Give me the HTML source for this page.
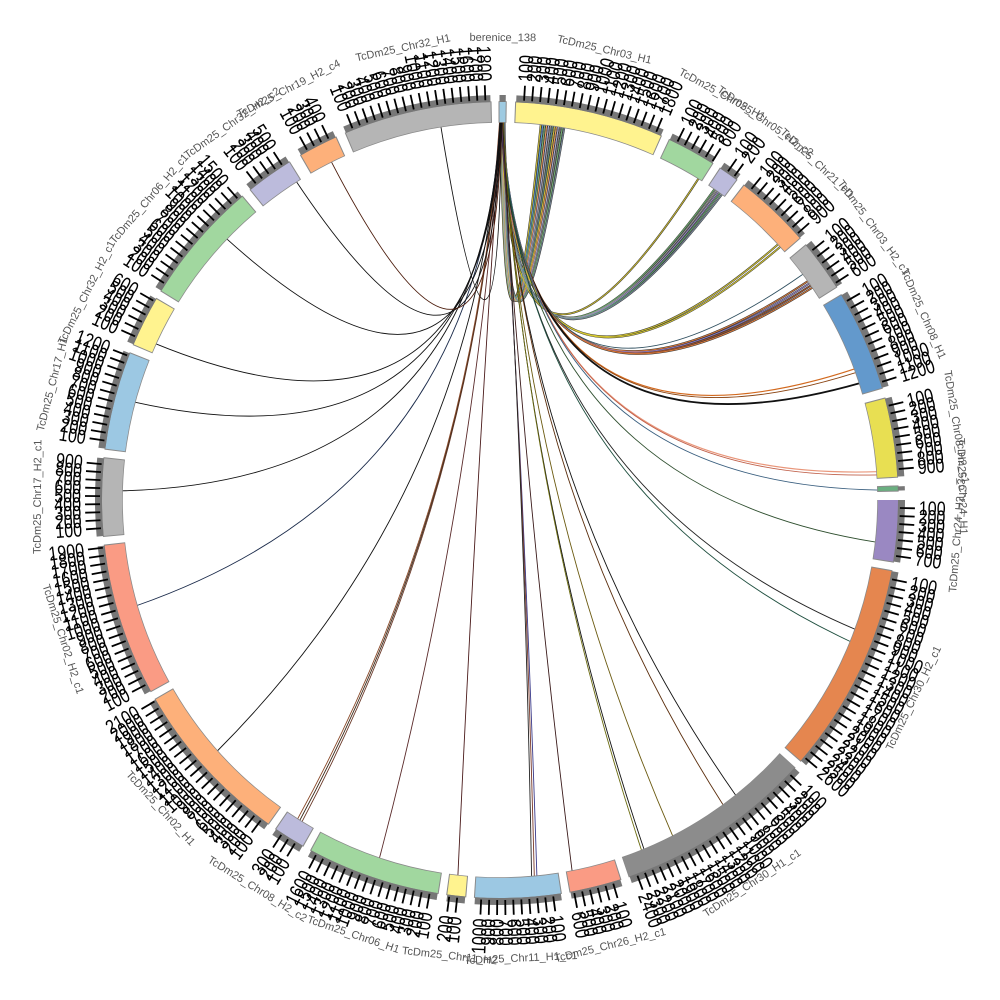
<!DOCTYPE html>
<html><head><meta charset="utf-8"><style>
html,body{margin:0;padding:0;width:1000px;height:1000px;overflow:hidden;background:#fff}
svg{display:block;overflow:hidden}
.ol{fill:none;stroke:#8a8a8a;stroke-width:21.5}
.sg{fill:none;stroke-width:20}
.gb{fill:none;stroke:#777;stroke-width:7}
.tk path{stroke:#000;stroke-width:1.8;fill:none}
.tk text{font-family:"Liberation Sans",sans-serif;font-size:20px;fill:#000;dominant-baseline:central}
.tk text.e{text-anchor:end}
.nm{font-family:"Liberation Sans",sans-serif;font-size:11px;fill:#555;text-anchor:middle}
.ch path{fill:none}
.ob path{stroke:#333;stroke-width:2;fill:none}
</style></head><body>
<svg width="1000" height="1000" viewBox="0 0 1000 1000" xmlns="http://www.w3.org/2000/svg">
<rect width="1000" height="1000" fill="#fff"/>
<!-- chords -->
<g class="ob">
<path d="M500.8 122Q505 478 540.8 124.2"/><path d="M501.1 122Q505 478 542.8 124.4"/><path d="M501.4 122Q505 478 544.8 124.6"/><path d="M501.7 122Q505 478 546.7 124.9"/><path d="M502 122Q505 478 548.7 125.1"/><path d="M502.3 122Q505 478 550.6 125.4"/><path d="M502.6 122Q505 478 552.6 125.7"/><path d="M502.9 122Q505 478 554.6 126"/><path d="M503.2 122Q505 478 556.5 126.2"/><path d="M503.5 122Q505 478 558.5 126.5"/><path d="M503.8 122Q505 478 560.4 126.9"/><path d="M504.1 122Q505 478 562.4 127.2"/><path d="M504.4 122Q505 478 564.3 127.5"/>
<path d="M502 122Q506.9 476 698.6 178.4"/><path d="M502.5 122Q507.6 476.2 714.6 188.9"/><path d="M503 122Q507.6 476.2 716.5 190.2"/><path d="M503.5 122Q507.6 476.2 718.4 191.5"/><path d="M504 122Q507.6 476.2 720.3 192.8"/><path d="M504.5 122Q507.6 476.2 722.2 194.2"/><path d="M503 122Q510.2 477.2 778.3 244.1"/><path d="M503.5 122Q510.2 477.2 780.5 246.6"/><path d="M502 122Q511.6 477.9 808.1 281"/><path d="M502.5 122Q511.6 477.9 809.7 283.2"/><path d="M503 122Q511.6 477.9 811.1 285.4"/><path d="M503.5 122Q511.6 477.9 812.6 287.5"/>
</g>
<g class="ch" stroke-width="1">
<path stroke="#d4c43a" d="M500.8 122Q505 478 540.8 124.2"/><path stroke="#5b9bd5" d="M501.1 122Q505 478 542.8 124.4"/><path stroke="#79b77a" d="M501.4 122Q505 478 544.8 124.6"/><path stroke="#f4a261" d="M501.7 122Q505 478 546.7 124.9"/><path stroke="#b0aed8" d="M502 122Q505 478 548.7 125.1"/><path stroke="#999" d="M502.3 122Q505 478 550.6 125.4"/><path stroke="#5f8f8f" d="M502.6 122Q505 478 552.6 125.7"/><path stroke="#d4c43a" d="M502.9 122Q505 478 554.6 126"/><path stroke="#f4a261" d="M503.2 122Q505 478 556.5 126.2"/><path stroke="#b0aed8" d="M503.5 122Q505 478 558.5 126.5"/><path stroke="#888" d="M503.8 122Q505 478 560.4 126.9"/><path stroke="#79b77a" d="M504.1 122Q505 478 562.4 127.2"/><path stroke="#778899" d="M504.4 122Q505 478 564.3 127.5"/>
<path stroke="#c8b830" d="M502 122Q506.9 476 698.6 178.4"/><path stroke="#6aa86a" d="M502.5 122Q507.6 476.2 714.6 188.9"/><path stroke="#9a9a9a" d="M503 122Q507.6 476.2 716.5 190.2"/><path stroke="#9b8fc9" d="M503.5 122Q507.6 476.2 718.4 191.5"/><path stroke="#5e9e6e" d="M504 122Q507.6 476.2 720.3 192.8"/><path stroke="#778899" d="M504.5 122Q507.6 476.2 722.2 194.2"/><path stroke="#d6c832" d="M503 122Q510.2 477.2 778.3 244.1"/><path stroke="#d6c832" d="M503.5 122Q510.2 477.2 780.5 246.6"/><path stroke="#e07b39" d="M502 122Q511.6 477.9 808.1 281"/><path stroke="#8e7cc3" d="M502.5 122Q511.6 477.9 809.7 283.2"/><path stroke="#a0522d" d="M503 122Q511.6 477.9 811.1 285.4"/><path stroke="#e07b39" d="M503.5 122Q511.6 477.9 812.6 287.5"/>
</g>
<g class="ch" stroke-width="0.9">
<path stroke="#2f4f5f" d="M504 122Q511.3 477.7 803.1 274.1"/>
<path stroke="#d2691e" stroke-width="1.2" d="M503 122Q515.7 480.6 854.5 368.9"/>
<path stroke="#8b4513" d="M503.5 122Q515.7 480.6 855.9 372.6"/>
<path stroke="#111" stroke-width="1.8" d="M502 122Q516.1 480.8 859.5 383.2"/>
<path stroke="#e9967a" stroke-width="1.2" d="M502.5 122Q518.3 483 877 471.7"/>
<path stroke="#c0604a" d="M503 122Q518.3 483 877.2 474.9"/>
<path stroke="#3a5f7f" d="M503 122Q518.6 483.3 877.9 490.1"/>
<path stroke="#2f4f2f" d="M502 122Q519.8 484.7 875.7 542.1"/>
<path stroke="#222" d="M501.5 122Q521.4 487.1 855.2 629.3"/>
<path stroke="#1f4f3f" d="M502 122Q521.7 487.5 850.5 641.6"/>
<path stroke="#111" d="M501 122Q523.6 491.8 735.8 795.4"/>
<path stroke="#5a2d0c" d="M501.5 122Q523.8 492.3 723.2 805"/>
<path stroke="#6b5a10" d="M502 122Q524.3 494.2 672.8 836.2"/>
<path stroke="#111" d="M502.5 122Q524.5 495.2 644.1 849.5"/>
<path stroke="#6b6b10" d="M503 122Q524.5 495.2 641.6 850.5"/>
<path stroke="#3a1a1a" d="M501 122Q524.9 497.6 572.1 871"/>
<path stroke="#3a3a8a" d="M501.5 122Q525 498.9 536.9 876.2"/>
<path stroke="#7a3a2a" d="M502 122Q525 498.9 534.3 876.4"/>
<path stroke="#222" d="M502.5 122Q525 498.9 531.6 876.7"/>
<path stroke="#4a1a1a" d="M501 122Q475 498.5 457.9 875.7"/>
<path stroke="#5a2a2a" d="M500.5 122Q475.3 495.9 379.4 858.3"/>
<path stroke="#6b3a2a" d="M500.5 122Q476 493 301.9 821.9"/>
<path stroke="#3a2a1a" d="M500 122Q476 493 299.7 820.5"/>
<path stroke="#8a4a2a" d="M499.5 122Q476 493 297.5 819.1"/>
<path stroke="#111" d="M500 122Q477.2 489.7 217.3 751"/>
<path stroke="#1a2a4a" d="M500 122Q480 485 137 605.5"/>
<path stroke="#111" d="M500 122Q482.6 482 122.1 490.8"/>
<path stroke="#111" d="M500.5 122Q484.9 480.1 134.9 402.2"/>
<path stroke="#111" d="M500.5 122Q486.5 478.9 155.8 343.8"/>
<path stroke="#111" d="M501 122Q490.2 477 226.7 238.8"/>
<path stroke="#111" d="M501 122Q493.1 476 296.3 181.5"/>
<path stroke="#4a1a0a" d="M501.5 122Q494.3 475.7 331.3 161.7"/>
<path stroke="#111" d="M501.5 122Q498.1 475.1 440.9 126.6"/>
</g>
<!-- outlines -->
<g>
<circle class="ol" cx="500" cy="500" r="388" stroke-dashoffset="-1826.72" stroke-dasharray="8.13 3000"/>
<circle class="ol" cx="500" cy="500" r="388" stroke-dashoffset="-1842.97" stroke-dasharray="147.63 3000"/>
<circle class="ol" cx="500" cy="500" r="388" stroke-dashoffset="-1998.05" stroke-dasharray="49.43 3000"/>
<circle class="ol" cx="500" cy="500" r="388" stroke-dashoffset="-2054.93" stroke-dasharray="20.99 3000"/>
<circle class="ol" cx="500" cy="500" r="388" stroke-dashoffset="-2083.37" stroke-dasharray="76.52 3000"/>
<circle class="ol" cx="500" cy="500" r="388" stroke-dashoffset="-2167.34" stroke-dasharray="52.14 3000"/>
<circle class="ol" cx="500" cy="500" r="388" stroke-dashoffset="-2226.94" stroke-dasharray="100.9 3000"/>
<circle class="ol" cx="500" cy="500" r="388" stroke-dashoffset="-2336.64" stroke-dasharray="79.23 3000"/>
<circle class="ol" cx="500" cy="500" r="388" stroke-dashoffset="-2423.32" stroke-dasharray="6.1 3000"/>
<circle class="ol" cx="500" cy="500" r="388" stroke-dashoffset="1.016" stroke-dasharray="62.3 3000"/>
<circle class="ol" cx="500" cy="500" r="388" stroke-dashoffset="-68.73" stroke-dasharray="209.25 3000"/>
<circle class="ol" cx="500" cy="500" r="388" stroke-dashoffset="-285.44" stroke-dasharray="196.39 3000"/>
<circle class="ol" cx="500" cy="500" r="388" stroke-dashoffset="-489.27" stroke-dasharray="52.14 3000"/>
<circle class="ol" cx="500" cy="500" r="388" stroke-dashoffset="-548.86" stroke-dasharray="86 3000"/>
<circle class="ol" cx="500" cy="500" r="388" stroke-dashoffset="-642.31" stroke-dasharray="19.64 3000"/>
<circle class="ol" cx="500" cy="500" r="388" stroke-dashoffset="-669.41" stroke-dasharray="132.73 3000"/>
<circle class="ol" cx="500" cy="500" r="388" stroke-dashoffset="-809.58" stroke-dasharray="32.51 3000"/>
<circle class="ol" cx="500" cy="500" r="388" stroke-dashoffset="-849.53" stroke-dasharray="166.59 3000"/>
<circle class="ol" cx="500" cy="500" r="388" stroke-dashoffset="-1023.57" stroke-dasharray="151.69 3000"/>
<circle class="ol" cx="500" cy="500" r="388" stroke-dashoffset="-1182.71" stroke-dasharray="77.88 3000"/>
<circle class="ol" cx="500" cy="500" r="388" stroke-dashoffset="-1268.04" stroke-dasharray="98.19 3000"/>
<circle class="ol" cx="500" cy="500" r="388" stroke-dashoffset="-1373.68" stroke-dasharray="51.47 3000"/>
<circle class="ol" cx="500" cy="500" r="388" stroke-dashoffset="-1432.6" stroke-dasharray="123.25 3000"/>
<circle class="ol" cx="500" cy="500" r="388" stroke-dashoffset="-1564.65" stroke-dasharray="48.08 3000"/>
<circle class="ol" cx="500" cy="500" r="388" stroke-dashoffset="-1624.24" stroke-dasharray="39.95 3000"/>
<circle class="ol" cx="500" cy="500" r="388" stroke-dashoffset="-1673" stroke-dasharray="146.95 3000"/>
</g>
<!-- colored segments -->
<g>
<circle class="sg" stroke="#9ecae1" cx="500" cy="500" r="388" stroke-dashoffset="-1827.74" stroke-dasharray="6.1 3000"/>
<circle class="sg" stroke="#fff38f" cx="500" cy="500" r="388" stroke-dashoffset="-1843.99" stroke-dasharray="145.6 3000"/>
<circle class="sg" stroke="#a1d79f" cx="500" cy="500" r="388" stroke-dashoffset="-1999.07" stroke-dasharray="47.4 3000"/>
<circle class="sg" stroke="#bcbbdc" cx="500" cy="500" r="388" stroke-dashoffset="-2055.95" stroke-dasharray="18.96 3000"/>
<circle class="sg" stroke="#fdb07a" cx="500" cy="500" r="388" stroke-dashoffset="-2084.39" stroke-dasharray="74.49 3000"/>
<circle class="sg" stroke="#b5b5b5" cx="500" cy="500" r="388" stroke-dashoffset="-2168.36" stroke-dasharray="50.11 3000"/>
<circle class="sg" stroke="#6399cc" cx="500" cy="500" r="388" stroke-dashoffset="-2227.96" stroke-dasharray="98.87 3000"/>
<circle class="sg" stroke="#e8df52" cx="500" cy="500" r="388" stroke-dashoffset="-2337.66" stroke-dasharray="77.2 3000"/>
<circle class="sg" stroke="#6aaf80" cx="500" cy="500" r="388" stroke-dashoffset="-2424.34" stroke-dasharray="4.06 3000"/>
<circle class="sg" stroke="#9a88c2" cx="500" cy="500" r="388" stroke-dashoffset="0" stroke-dasharray="60.27 3000"/>
<circle class="sg" stroke="#e5864f" cx="500" cy="500" r="388" stroke-dashoffset="-69.75" stroke-dasharray="207.22 3000"/>
<circle class="sg" stroke="#8c8c8c" cx="500" cy="500" r="388" stroke-dashoffset="-286.45" stroke-dasharray="194.35 3000"/>
<circle class="sg" stroke="#fa9b84" cx="500" cy="500" r="388" stroke-dashoffset="-490.29" stroke-dasharray="50.11 3000"/>
<circle class="sg" stroke="#9cc8e3" cx="500" cy="500" r="388" stroke-dashoffset="-549.88" stroke-dasharray="83.97 3000"/>
<circle class="sg" stroke="#fff38f" cx="500" cy="500" r="388" stroke-dashoffset="-643.33" stroke-dasharray="17.61 3000"/>
<circle class="sg" stroke="#a1d79f" cx="500" cy="500" r="388" stroke-dashoffset="-670.42" stroke-dasharray="130.7 3000"/>
<circle class="sg" stroke="#bcbbdc" cx="500" cy="500" r="388" stroke-dashoffset="-810.6" stroke-dasharray="30.47 3000"/>
<circle class="sg" stroke="#fdb07a" cx="500" cy="500" r="388" stroke-dashoffset="-850.55" stroke-dasharray="164.56 3000"/>
<circle class="sg" stroke="#fa9b84" cx="500" cy="500" r="388" stroke-dashoffset="-1024.59" stroke-dasharray="149.66 3000"/>
<circle class="sg" stroke="#b5b5b5" cx="500" cy="500" r="388" stroke-dashoffset="-1183.73" stroke-dasharray="75.85 3000"/>
<circle class="sg" stroke="#9cc8e3" cx="500" cy="500" r="388" stroke-dashoffset="-1269.05" stroke-dasharray="96.16 3000"/>
<circle class="sg" stroke="#fff38f" cx="500" cy="500" r="388" stroke-dashoffset="-1374.7" stroke-dasharray="49.43 3000"/>
<circle class="sg" stroke="#a1d79f" cx="500" cy="500" r="388" stroke-dashoffset="-1433.61" stroke-dasharray="121.22 3000"/>
<circle class="sg" stroke="#bcbbdc" cx="500" cy="500" r="388" stroke-dashoffset="-1565.66" stroke-dasharray="46.05 3000"/>
<circle class="sg" stroke="#fdb07a" cx="500" cy="500" r="388" stroke-dashoffset="-1625.26" stroke-dasharray="37.92 3000"/>
<circle class="sg" stroke="#b5b5b5" cx="500" cy="500" r="388" stroke-dashoffset="-1674.01" stroke-dasharray="144.92 3000"/>
</g>
<!-- grey tick band -->
<g>
<circle class="gb" cx="500" cy="500" r="401.5" stroke-dashoffset="-1891.32" stroke-dasharray="6.31 3000"/>
<circle class="gb" cx="500" cy="500" r="401.5" stroke-dashoffset="-1908.14" stroke-dasharray="150.66 3000"/>
<circle class="gb" cx="500" cy="500" r="401.5" stroke-dashoffset="-2068.61" stroke-dasharray="49.05 3000"/>
<circle class="gb" cx="500" cy="500" r="401.5" stroke-dashoffset="-2127.48" stroke-dasharray="19.62 3000"/>
<circle class="gb" cx="500" cy="500" r="401.5" stroke-dashoffset="-2156.91" stroke-dasharray="77.08 3000"/>
<circle class="gb" cx="500" cy="500" r="401.5" stroke-dashoffset="-2243.8" stroke-dasharray="51.86 3000"/>
<circle class="gb" cx="500" cy="500" r="401.5" stroke-dashoffset="-2305.47" stroke-dasharray="102.31 3000"/>
<circle class="gb" cx="500" cy="500" r="401.5" stroke-dashoffset="-2418.99" stroke-dasharray="79.89 3000"/>
<circle class="gb" cx="500" cy="500" r="401.5" stroke-dashoffset="-2508.69" stroke-dasharray="4.2 3000"/>
<circle class="gb" cx="500" cy="500" r="401.5" stroke-dashoffset="0" stroke-dasharray="62.37 3000"/>
<circle class="gb" cx="500" cy="500" r="401.5" stroke-dashoffset="-72.18" stroke-dasharray="214.43 3000"/>
<circle class="gb" cx="500" cy="500" r="401.5" stroke-dashoffset="-296.42" stroke-dasharray="201.12 3000"/>
<circle class="gb" cx="500" cy="500" r="401.5" stroke-dashoffset="-507.34" stroke-dasharray="51.86 3000"/>
<circle class="gb" cx="500" cy="500" r="401.5" stroke-dashoffset="-569.01" stroke-dasharray="86.89 3000"/>
<circle class="gb" cx="500" cy="500" r="401.5" stroke-dashoffset="-665.71" stroke-dasharray="18.22 3000"/>
<circle class="gb" cx="500" cy="500" r="401.5" stroke-dashoffset="-693.74" stroke-dasharray="135.24 3000"/>
<circle class="gb" cx="500" cy="500" r="401.5" stroke-dashoffset="-838.8" stroke-dasharray="31.53 3000"/>
<circle class="gb" cx="500" cy="500" r="401.5" stroke-dashoffset="-880.14" stroke-dasharray="170.28 3000"/>
<circle class="gb" cx="500" cy="500" r="401.5" stroke-dashoffset="-1060.23" stroke-dasharray="154.87 3000"/>
<circle class="gb" cx="500" cy="500" r="401.5" stroke-dashoffset="-1224.91" stroke-dasharray="78.48 3000"/>
<circle class="gb" cx="500" cy="500" r="401.5" stroke-dashoffset="-1313.21" stroke-dasharray="99.51 3000"/>
<circle class="gb" cx="500" cy="500" r="401.5" stroke-dashoffset="-1422.52" stroke-dasharray="51.15 3000"/>
<circle class="gb" cx="500" cy="500" r="401.5" stroke-dashoffset="-1483.49" stroke-dasharray="125.43 3000"/>
<circle class="gb" cx="500" cy="500" r="401.5" stroke-dashoffset="-1620.13" stroke-dasharray="47.65 3000"/>
<circle class="gb" cx="500" cy="500" r="401.5" stroke-dashoffset="-1681.8" stroke-dasharray="39.24 3000"/>
<circle class="gb" cx="500" cy="500" r="401.5" stroke-dashoffset="-1732.25" stroke-dasharray="149.96 3000"/>
</g>
<!-- ticks -->
<g class="tk" transform="rotate(2.3 500 500)">
<g transform="rotate(1.15 500 500)"><path d="M500 100V85"/><text transform="translate(500 81) rotate(-90) scale(.8 1)">100</text></g>
<g transform="rotate(2.3 500 500)"><path d="M500 100V85"/><text transform="translate(500 81) rotate(-90) scale(.8 1)">200</text></g>
<g transform="rotate(3.45 500 500)"><path d="M500 100V85"/><text transform="translate(500 81) rotate(-90) scale(.8 1)">300</text></g>
<g transform="rotate(4.6 500 500)"><path d="M500 100V85"/><text transform="translate(500 81) rotate(-90) scale(.8 1)">400</text></g>
<g transform="rotate(5.75 500 500)"><path d="M500 100V85"/><text transform="translate(500 81) rotate(-90) scale(.8 1)">500</text></g>
<g transform="rotate(6.9 500 500)"><path d="M500 100V85"/><text transform="translate(500 81) rotate(-90) scale(.8 1)">600</text></g>
<g transform="rotate(8.05 500 500)"><path d="M500 100V85"/><text transform="translate(500 81) rotate(-90) scale(.8 1)">700</text></g>
<g transform="rotate(9.2 500 500)"><path d="M500 100V85"/><text transform="translate(500 81) rotate(-90) scale(.8 1)">800</text></g>
<g transform="rotate(10.35 500 500)"><path d="M500 100V85"/><text transform="translate(500 81) rotate(-90) scale(.8 1)">900</text></g>
<g transform="rotate(11.5 500 500)"><path d="M500 100V85"/><text transform="translate(500 81) rotate(-90) scale(.8 1)">1000</text></g>
<g transform="rotate(12.65 500 500)"><path d="M500 100V85"/><text transform="translate(500 81) rotate(-90) scale(.8 1)">1100</text></g>
<g transform="rotate(13.8 500 500)"><path d="M500 100V85"/><text transform="translate(500 81) rotate(-90) scale(.8 1)">1200</text></g>
<g transform="rotate(14.95 500 500)"><path d="M500 100V85"/><text transform="translate(500 81) rotate(-90) scale(.8 1)">1300</text></g>
<g transform="rotate(16.1 500 500)"><path d="M500 100V85"/><text transform="translate(500 81) rotate(-90) scale(.8 1)">1400</text></g>
<g transform="rotate(17.25 500 500)"><path d="M500 100V85"/><text transform="translate(500 81) rotate(-90) scale(.8 1)">1500</text></g>
<g transform="rotate(18.4 500 500)"><path d="M500 100V85"/><text transform="translate(500 81) rotate(-90) scale(.8 1)">1600</text></g>
<g transform="rotate(19.55 500 500)"><path d="M500 100V85"/><text transform="translate(500 81) rotate(-90) scale(.8 1)">1700</text></g>
<g transform="rotate(20.7 500 500)"><path d="M500 100V85"/><text transform="translate(500 81) rotate(-90) scale(.8 1)">1800</text></g>
</g>
<g class="tk" transform="rotate(25.2 500 500)">
<g transform="rotate(1.15 500 500)"><path d="M500 100V85"/><text transform="translate(500 81) rotate(-90) scale(.8 1)">100</text></g>
<g transform="rotate(2.3 500 500)"><path d="M500 100V85"/><text transform="translate(500 81) rotate(-90) scale(.8 1)">200</text></g>
<g transform="rotate(3.45 500 500)"><path d="M500 100V85"/><text transform="translate(500 81) rotate(-90) scale(.8 1)">300</text></g>
<g transform="rotate(4.6 500 500)"><path d="M500 100V85"/><text transform="translate(500 81) rotate(-90) scale(.8 1)">400</text></g>
<g transform="rotate(5.75 500 500)"><path d="M500 100V85"/><text transform="translate(500 81) rotate(-90) scale(.8 1)">500</text></g>
<g transform="rotate(6.9 500 500)"><path d="M500 100V85"/><text transform="translate(500 81) rotate(-90) scale(.8 1)">600</text></g>
</g>
<g class="tk" transform="rotate(33.6 500 500)">
<g transform="rotate(1.15 500 500)"><path d="M500 100V85"/><text transform="translate(500 81) rotate(-90) scale(.8 1)">100</text></g>
<g transform="rotate(2.3 500 500)"><path d="M500 100V85"/><text transform="translate(500 81) rotate(-90) scale(.8 1)">200</text></g>
</g>
<g class="tk" transform="rotate(37.8 500 500)">
<g transform="rotate(1.15 500 500)"><path d="M500 100V85"/><text transform="translate(500 81) rotate(-90) scale(.8 1)">100</text></g>
<g transform="rotate(2.3 500 500)"><path d="M500 100V85"/><text transform="translate(500 81) rotate(-90) scale(.8 1)">200</text></g>
<g transform="rotate(3.45 500 500)"><path d="M500 100V85"/><text transform="translate(500 81) rotate(-90) scale(.8 1)">300</text></g>
<g transform="rotate(4.6 500 500)"><path d="M500 100V85"/><text transform="translate(500 81) rotate(-90) scale(.8 1)">400</text></g>
<g transform="rotate(5.75 500 500)"><path d="M500 100V85"/><text transform="translate(500 81) rotate(-90) scale(.8 1)">500</text></g>
<g transform="rotate(6.9 500 500)"><path d="M500 100V85"/><text transform="translate(500 81) rotate(-90) scale(.8 1)">600</text></g>
<g transform="rotate(8.05 500 500)"><path d="M500 100V85"/><text transform="translate(500 81) rotate(-90) scale(.8 1)">700</text></g>
<g transform="rotate(9.2 500 500)"><path d="M500 100V85"/><text transform="translate(500 81) rotate(-90) scale(.8 1)">800</text></g>
<g transform="rotate(10.35 500 500)"><path d="M500 100V85"/><text transform="translate(500 81) rotate(-90) scale(.8 1)">900</text></g>
</g>
<g class="tk" transform="rotate(50.2 500 500)">
<g transform="rotate(1.15 500 500)"><path d="M500 100V85"/><text transform="translate(500 81) rotate(-90) scale(.8 1)">100</text></g>
<g transform="rotate(2.3 500 500)"><path d="M500 100V85"/><text transform="translate(500 81) rotate(-90) scale(.8 1)">200</text></g>
<g transform="rotate(3.45 500 500)"><path d="M500 100V85"/><text transform="translate(500 81) rotate(-90) scale(.8 1)">300</text></g>
<g transform="rotate(4.6 500 500)"><path d="M500 100V85"/><text transform="translate(500 81) rotate(-90) scale(.8 1)">400</text></g>
<g transform="rotate(5.75 500 500)"><path d="M500 100V85"/><text transform="translate(500 81) rotate(-90) scale(.8 1)">500</text></g>
<g transform="rotate(6.9 500 500)"><path d="M500 100V85"/><text transform="translate(500 81) rotate(-90) scale(.8 1)">600</text></g>
</g>
<g class="tk" transform="rotate(59 500 500)">
<g transform="rotate(1.15 500 500)"><path d="M500 100V85"/><text transform="translate(500 81) rotate(-90) scale(.8 1)">100</text></g>
<g transform="rotate(2.3 500 500)"><path d="M500 100V85"/><text transform="translate(500 81) rotate(-90) scale(.8 1)">200</text></g>
<g transform="rotate(3.45 500 500)"><path d="M500 100V85"/><text transform="translate(500 81) rotate(-90) scale(.8 1)">300</text></g>
<g transform="rotate(4.6 500 500)"><path d="M500 100V85"/><text transform="translate(500 81) rotate(-90) scale(.8 1)">400</text></g>
<g transform="rotate(5.75 500 500)"><path d="M500 100V85"/><text transform="translate(500 81) rotate(-90) scale(.8 1)">500</text></g>
<g transform="rotate(6.9 500 500)"><path d="M500 100V85"/><text transform="translate(500 81) rotate(-90) scale(.8 1)">600</text></g>
<g transform="rotate(8.05 500 500)"><path d="M500 100V85"/><text transform="translate(500 81) rotate(-90) scale(.8 1)">700</text></g>
<g transform="rotate(9.2 500 500)"><path d="M500 100V85"/><text transform="translate(500 81) rotate(-90) scale(.8 1)">800</text></g>
<g transform="rotate(10.35 500 500)"><path d="M500 100V85"/><text transform="translate(500 81) rotate(-90) scale(.8 1)">900</text></g>
<g transform="rotate(11.5 500 500)"><path d="M500 100V85"/><text transform="translate(500 81) rotate(-90) scale(.8 1)">1000</text></g>
<g transform="rotate(12.65 500 500)"><path d="M500 100V85"/><text transform="translate(500 81) rotate(-90) scale(.8 1)">1100</text></g>
<g transform="rotate(13.8 500 500)"><path d="M500 100V85"/><text transform="translate(500 81) rotate(-90) scale(.8 1)">1200</text></g>
</g>
<g class="tk" transform="rotate(75.2 500 500)">
<g transform="rotate(1.15 500 500)"><path d="M500 100V85"/><text transform="translate(500 81) rotate(-90) scale(.8 1)">100</text></g>
<g transform="rotate(2.3 500 500)"><path d="M500 100V85"/><text transform="translate(500 81) rotate(-90) scale(.8 1)">200</text></g>
<g transform="rotate(3.45 500 500)"><path d="M500 100V85"/><text transform="translate(500 81) rotate(-90) scale(.8 1)">300</text></g>
<g transform="rotate(4.6 500 500)"><path d="M500 100V85"/><text transform="translate(500 81) rotate(-90) scale(.8 1)">400</text></g>
<g transform="rotate(5.75 500 500)"><path d="M500 100V85"/><text transform="translate(500 81) rotate(-90) scale(.8 1)">500</text></g>
<g transform="rotate(6.9 500 500)"><path d="M500 100V85"/><text transform="translate(500 81) rotate(-90) scale(.8 1)">600</text></g>
<g transform="rotate(8.05 500 500)"><path d="M500 100V85"/><text transform="translate(500 81) rotate(-90) scale(.8 1)">700</text></g>
<g transform="rotate(9.2 500 500)"><path d="M500 100V85"/><text transform="translate(500 81) rotate(-90) scale(.8 1)">800</text></g>
<g transform="rotate(10.35 500 500)"><path d="M500 100V85"/><text transform="translate(500 81) rotate(-90) scale(.8 1)">900</text></g>
</g>
<g class="tk" transform="rotate(90 500 500)">
<g transform="rotate(1.15 500 500)"><path d="M500 100V85"/><text transform="translate(500 81) rotate(-90) scale(.8 1)">100</text></g>
<g transform="rotate(2.3 500 500)"><path d="M500 100V85"/><text transform="translate(500 81) rotate(-90) scale(.8 1)">200</text></g>
<g transform="rotate(3.45 500 500)"><path d="M500 100V85"/><text transform="translate(500 81) rotate(-90) scale(.8 1)">300</text></g>
<g transform="rotate(4.6 500 500)"><path d="M500 100V85"/><text transform="translate(500 81) rotate(-90) scale(.8 1)">400</text></g>
<g transform="rotate(5.75 500 500)"><path d="M500 100V85"/><text transform="translate(500 81) rotate(-90) scale(.8 1)">500</text></g>
<g transform="rotate(6.9 500 500)"><path d="M500 100V85"/><text transform="translate(500 81) rotate(-90) scale(.8 1)">600</text></g>
<g transform="rotate(8.05 500 500)"><path d="M500 100V85"/><text transform="translate(500 81) rotate(-90) scale(.8 1)">700</text></g>
</g>
<g class="tk" transform="rotate(100.3 500 500)">
<g transform="rotate(1.15 500 500)"><path d="M500 100V85"/><text transform="translate(500 81) rotate(-90) scale(.8 1)">100</text></g>
<g transform="rotate(2.3 500 500)"><path d="M500 100V85"/><text transform="translate(500 81) rotate(-90) scale(.8 1)">200</text></g>
<g transform="rotate(3.45 500 500)"><path d="M500 100V85"/><text transform="translate(500 81) rotate(-90) scale(.8 1)">300</text></g>
<g transform="rotate(4.6 500 500)"><path d="M500 100V85"/><text transform="translate(500 81) rotate(-90) scale(.8 1)">400</text></g>
<g transform="rotate(5.75 500 500)"><path d="M500 100V85"/><text transform="translate(500 81) rotate(-90) scale(.8 1)">500</text></g>
<g transform="rotate(6.9 500 500)"><path d="M500 100V85"/><text transform="translate(500 81) rotate(-90) scale(.8 1)">600</text></g>
<g transform="rotate(8.05 500 500)"><path d="M500 100V85"/><text transform="translate(500 81) rotate(-90) scale(.8 1)">700</text></g>
<g transform="rotate(9.2 500 500)"><path d="M500 100V85"/><text transform="translate(500 81) rotate(-90) scale(.8 1)">800</text></g>
<g transform="rotate(10.35 500 500)"><path d="M500 100V85"/><text transform="translate(500 81) rotate(-90) scale(.8 1)">900</text></g>
<g transform="rotate(11.5 500 500)"><path d="M500 100V85"/><text transform="translate(500 81) rotate(-90) scale(.8 1)">1000</text></g>
<g transform="rotate(12.65 500 500)"><path d="M500 100V85"/><text transform="translate(500 81) rotate(-90) scale(.8 1)">1100</text></g>
<g transform="rotate(13.8 500 500)"><path d="M500 100V85"/><text transform="translate(500 81) rotate(-90) scale(.8 1)">1200</text></g>
<g transform="rotate(14.95 500 500)"><path d="M500 100V85"/><text transform="translate(500 81) rotate(-90) scale(.8 1)">1300</text></g>
<g transform="rotate(16.1 500 500)"><path d="M500 100V85"/><text transform="translate(500 81) rotate(-90) scale(.8 1)">1400</text></g>
<g transform="rotate(17.25 500 500)"><path d="M500 100V85"/><text transform="translate(500 81) rotate(-90) scale(.8 1)">1500</text></g>
<g transform="rotate(18.4 500 500)"><path d="M500 100V85"/><text transform="translate(500 81) rotate(-90) scale(.8 1)">1600</text></g>
<g transform="rotate(19.55 500 500)"><path d="M500 100V85"/><text transform="translate(500 81) rotate(-90) scale(.8 1)">1700</text></g>
<g transform="rotate(20.7 500 500)"><path d="M500 100V85"/><text transform="translate(500 81) rotate(-90) scale(.8 1)">1800</text></g>
<g transform="rotate(21.85 500 500)"><path d="M500 100V85"/><text transform="translate(500 81) rotate(-90) scale(.8 1)">1900</text></g>
<g transform="rotate(23 500 500)"><path d="M500 100V85"/><text transform="translate(500 81) rotate(-90) scale(.8 1)">2000</text></g>
<g transform="rotate(24.15 500 500)"><path d="M500 100V85"/><text transform="translate(500 81) rotate(-90) scale(.8 1)">2100</text></g>
<g transform="rotate(25.3 500 500)"><path d="M500 100V85"/><text transform="translate(500 81) rotate(-90) scale(.8 1)">2200</text></g>
<g transform="rotate(26.45 500 500)"><path d="M500 100V85"/><text transform="translate(500 81) rotate(-90) scale(.8 1)">2300</text></g>
<g transform="rotate(27.6 500 500)"><path d="M500 100V85"/><text transform="translate(500 81) rotate(-90) scale(.8 1)">2400</text></g>
<g transform="rotate(28.75 500 500)"><path d="M500 100V85"/><text transform="translate(500 81) rotate(-90) scale(.8 1)">2500</text></g>
<g transform="rotate(29.9 500 500)"><path d="M500 100V85"/><text transform="translate(500 81) rotate(-90) scale(.8 1)">2600</text></g>
</g>
<g class="tk" transform="rotate(132.3 500 500)">
<g transform="rotate(1.15 500 500)"><path d="M500 100V85"/><text transform="translate(500 81) rotate(-90) scale(.8 1)">100</text></g>
<g transform="rotate(2.3 500 500)"><path d="M500 100V85"/><text transform="translate(500 81) rotate(-90) scale(.8 1)">200</text></g>
<g transform="rotate(3.45 500 500)"><path d="M500 100V85"/><text transform="translate(500 81) rotate(-90) scale(.8 1)">300</text></g>
<g transform="rotate(4.6 500 500)"><path d="M500 100V85"/><text transform="translate(500 81) rotate(-90) scale(.8 1)">400</text></g>
<g transform="rotate(5.75 500 500)"><path d="M500 100V85"/><text transform="translate(500 81) rotate(-90) scale(.8 1)">500</text></g>
<g transform="rotate(6.9 500 500)"><path d="M500 100V85"/><text transform="translate(500 81) rotate(-90) scale(.8 1)">600</text></g>
<g transform="rotate(8.05 500 500)"><path d="M500 100V85"/><text transform="translate(500 81) rotate(-90) scale(.8 1)">700</text></g>
<g transform="rotate(9.2 500 500)"><path d="M500 100V85"/><text transform="translate(500 81) rotate(-90) scale(.8 1)">800</text></g>
<g transform="rotate(10.35 500 500)"><path d="M500 100V85"/><text transform="translate(500 81) rotate(-90) scale(.8 1)">900</text></g>
<g transform="rotate(11.5 500 500)"><path d="M500 100V85"/><text transform="translate(500 81) rotate(-90) scale(.8 1)">1000</text></g>
<g transform="rotate(12.65 500 500)"><path d="M500 100V85"/><text transform="translate(500 81) rotate(-90) scale(.8 1)">1100</text></g>
<g transform="rotate(13.8 500 500)"><path d="M500 100V85"/><text transform="translate(500 81) rotate(-90) scale(.8 1)">1200</text></g>
<g transform="rotate(14.95 500 500)"><path d="M500 100V85"/><text transform="translate(500 81) rotate(-90) scale(.8 1)">1300</text></g>
<g transform="rotate(16.1 500 500)"><path d="M500 100V85"/><text transform="translate(500 81) rotate(-90) scale(.8 1)">1400</text></g>
<g transform="rotate(17.25 500 500)"><path d="M500 100V85"/><text transform="translate(500 81) rotate(-90) scale(.8 1)">1500</text></g>
<g transform="rotate(18.4 500 500)"><path d="M500 100V85"/><text transform="translate(500 81) rotate(-90) scale(.8 1)">1600</text></g>
<g transform="rotate(19.55 500 500)"><path d="M500 100V85"/><text transform="translate(500 81) rotate(-90) scale(.8 1)">1700</text></g>
<g transform="rotate(20.7 500 500)"><path d="M500 100V85"/><text transform="translate(500 81) rotate(-90) scale(.8 1)">1800</text></g>
<g transform="rotate(21.85 500 500)"><path d="M500 100V85"/><text transform="translate(500 81) rotate(-90) scale(.8 1)">1900</text></g>
<g transform="rotate(23 500 500)"><path d="M500 100V85"/><text transform="translate(500 81) rotate(-90) scale(.8 1)">2000</text></g>
<g transform="rotate(24.15 500 500)"><path d="M500 100V85"/><text transform="translate(500 81) rotate(-90) scale(.8 1)">2100</text></g>
<g transform="rotate(25.3 500 500)"><path d="M500 100V85"/><text transform="translate(500 81) rotate(-90) scale(.8 1)">2200</text></g>
<g transform="rotate(26.45 500 500)"><path d="M500 100V85"/><text transform="translate(500 81) rotate(-90) scale(.8 1)">2300</text></g>
<g transform="rotate(27.6 500 500)"><path d="M500 100V85"/><text transform="translate(500 81) rotate(-90) scale(.8 1)">2400</text></g>
</g>
<g class="tk" transform="rotate(162.4 500 500)">
<g transform="rotate(1.15 500 500)"><path d="M500 100V85"/><text transform="translate(500 81) rotate(-90) scale(.8 1)">100</text></g>
<g transform="rotate(2.3 500 500)"><path d="M500 100V85"/><text transform="translate(500 81) rotate(-90) scale(.8 1)">200</text></g>
<g transform="rotate(3.45 500 500)"><path d="M500 100V85"/><text transform="translate(500 81) rotate(-90) scale(.8 1)">300</text></g>
<g transform="rotate(4.6 500 500)"><path d="M500 100V85"/><text transform="translate(500 81) rotate(-90) scale(.8 1)">400</text></g>
<g transform="rotate(5.75 500 500)"><path d="M500 100V85"/><text transform="translate(500 81) rotate(-90) scale(.8 1)">500</text></g>
<g transform="rotate(6.9 500 500)"><path d="M500 100V85"/><text transform="translate(500 81) rotate(-90) scale(.8 1)">600</text></g>
</g>
<g class="tk" transform="rotate(171.2 500 500)">
<g transform="rotate(1.15 500 500)"><path d="M500 100V85"/><text transform="translate(500 81) rotate(-90) scale(.8 1)">100</text></g>
<g transform="rotate(2.3 500 500)"><path d="M500 100V85"/><text transform="translate(500 81) rotate(-90) scale(.8 1)">200</text></g>
<g transform="rotate(3.45 500 500)"><path d="M500 100V85"/><text transform="translate(500 81) rotate(-90) scale(.8 1)">300</text></g>
<g transform="rotate(4.6 500 500)"><path d="M500 100V85"/><text transform="translate(500 81) rotate(-90) scale(.8 1)">400</text></g>
<g transform="rotate(5.75 500 500)"><path d="M500 100V85"/><text transform="translate(500 81) rotate(-90) scale(.8 1)">500</text></g>
<g transform="rotate(6.9 500 500)"><path d="M500 100V85"/><text transform="translate(500 81) rotate(-90) scale(.8 1)">600</text></g>
<g transform="rotate(8.05 500 500)"><path d="M500 100V85"/><text transform="translate(500 81) rotate(-90) scale(.8 1)">700</text></g>
<g transform="rotate(9.2 500 500)"><path d="M500 100V85"/><text class="e" transform="translate(500 81) rotate(90) scale(.8 1)">800</text></g>
<g transform="rotate(10.35 500 500)"><path d="M500 100V85"/><text class="e" transform="translate(500 81) rotate(90) scale(.8 1)">900</text></g>
<g transform="rotate(11.5 500 500)"><path d="M500 100V85"/><text class="e" transform="translate(500 81) rotate(90) scale(.8 1)">1000</text></g>
</g>
<g class="tk" transform="rotate(185 500 500)">
<g transform="rotate(1.15 500 500)"><path d="M500 100V85"/><text class="e" transform="translate(500 81) rotate(90) scale(.8 1)">100</text></g>
<g transform="rotate(2.3 500 500)"><path d="M500 100V85"/><text class="e" transform="translate(500 81) rotate(90) scale(.8 1)">200</text></g>
</g>
<g class="tk" transform="rotate(189 500 500)">
<g transform="rotate(1.15 500 500)"><path d="M500 100V85"/><text class="e" transform="translate(500 81) rotate(90) scale(.8 1)">100</text></g>
<g transform="rotate(2.3 500 500)"><path d="M500 100V85"/><text class="e" transform="translate(500 81) rotate(90) scale(.8 1)">200</text></g>
<g transform="rotate(3.45 500 500)"><path d="M500 100V85"/><text class="e" transform="translate(500 81) rotate(90) scale(.8 1)">300</text></g>
<g transform="rotate(4.6 500 500)"><path d="M500 100V85"/><text class="e" transform="translate(500 81) rotate(90) scale(.8 1)">400</text></g>
<g transform="rotate(5.75 500 500)"><path d="M500 100V85"/><text class="e" transform="translate(500 81) rotate(90) scale(.8 1)">500</text></g>
<g transform="rotate(6.9 500 500)"><path d="M500 100V85"/><text class="e" transform="translate(500 81) rotate(90) scale(.8 1)">600</text></g>
<g transform="rotate(8.05 500 500)"><path d="M500 100V85"/><text class="e" transform="translate(500 81) rotate(90) scale(.8 1)">700</text></g>
<g transform="rotate(9.2 500 500)"><path d="M500 100V85"/><text class="e" transform="translate(500 81) rotate(90) scale(.8 1)">800</text></g>
<g transform="rotate(10.35 500 500)"><path d="M500 100V85"/><text class="e" transform="translate(500 81) rotate(90) scale(.8 1)">900</text></g>
<g transform="rotate(11.5 500 500)"><path d="M500 100V85"/><text class="e" transform="translate(500 81) rotate(90) scale(.8 1)">1000</text></g>
<g transform="rotate(12.65 500 500)"><path d="M500 100V85"/><text class="e" transform="translate(500 81) rotate(90) scale(.8 1)">1100</text></g>
<g transform="rotate(13.8 500 500)"><path d="M500 100V85"/><text class="e" transform="translate(500 81) rotate(90) scale(.8 1)">1200</text></g>
<g transform="rotate(14.95 500 500)"><path d="M500 100V85"/><text class="e" transform="translate(500 81) rotate(90) scale(.8 1)">1300</text></g>
<g transform="rotate(16.1 500 500)"><path d="M500 100V85"/><text class="e" transform="translate(500 81) rotate(90) scale(.8 1)">1400</text></g>
<g transform="rotate(17.25 500 500)"><path d="M500 100V85"/><text class="e" transform="translate(500 81) rotate(90) scale(.8 1)">1500</text></g>
<g transform="rotate(18.4 500 500)"><path d="M500 100V85"/><text class="e" transform="translate(500 81) rotate(90) scale(.8 1)">1600</text></g>
</g>
<g class="tk" transform="rotate(209.7 500 500)">
<g transform="rotate(1.15 500 500)"><path d="M500 100V85"/><text class="e" transform="translate(500 81) rotate(90) scale(.8 1)">100</text></g>
<g transform="rotate(2.3 500 500)"><path d="M500 100V85"/><text class="e" transform="translate(500 81) rotate(90) scale(.8 1)">200</text></g>
<g transform="rotate(3.45 500 500)"><path d="M500 100V85"/><text class="e" transform="translate(500 81) rotate(90) scale(.8 1)">300</text></g>
</g>
<g class="tk" transform="rotate(215.6 500 500)">
<g transform="rotate(1.15 500 500)"><path d="M500 100V85"/><text class="e" transform="translate(500 81) rotate(90) scale(.8 1)">100</text></g>
<g transform="rotate(2.3 500 500)"><path d="M500 100V85"/><text class="e" transform="translate(500 81) rotate(90) scale(.8 1)">200</text></g>
<g transform="rotate(3.45 500 500)"><path d="M500 100V85"/><text class="e" transform="translate(500 81) rotate(90) scale(.8 1)">300</text></g>
<g transform="rotate(4.6 500 500)"><path d="M500 100V85"/><text class="e" transform="translate(500 81) rotate(90) scale(.8 1)">400</text></g>
<g transform="rotate(5.75 500 500)"><path d="M500 100V85"/><text class="e" transform="translate(500 81) rotate(90) scale(.8 1)">500</text></g>
<g transform="rotate(6.9 500 500)"><path d="M500 100V85"/><text class="e" transform="translate(500 81) rotate(90) scale(.8 1)">600</text></g>
<g transform="rotate(8.05 500 500)"><path d="M500 100V85"/><text class="e" transform="translate(500 81) rotate(90) scale(.8 1)">700</text></g>
<g transform="rotate(9.2 500 500)"><path d="M500 100V85"/><text class="e" transform="translate(500 81) rotate(90) scale(.8 1)">800</text></g>
<g transform="rotate(10.35 500 500)"><path d="M500 100V85"/><text class="e" transform="translate(500 81) rotate(90) scale(.8 1)">900</text></g>
<g transform="rotate(11.5 500 500)"><path d="M500 100V85"/><text class="e" transform="translate(500 81) rotate(90) scale(.8 1)">1000</text></g>
<g transform="rotate(12.65 500 500)"><path d="M500 100V85"/><text class="e" transform="translate(500 81) rotate(90) scale(.8 1)">1100</text></g>
<g transform="rotate(13.8 500 500)"><path d="M500 100V85"/><text class="e" transform="translate(500 81) rotate(90) scale(.8 1)">1200</text></g>
<g transform="rotate(14.95 500 500)"><path d="M500 100V85"/><text class="e" transform="translate(500 81) rotate(90) scale(.8 1)">1300</text></g>
<g transform="rotate(16.1 500 500)"><path d="M500 100V85"/><text class="e" transform="translate(500 81) rotate(90) scale(.8 1)">1400</text></g>
<g transform="rotate(17.25 500 500)"><path d="M500 100V85"/><text class="e" transform="translate(500 81) rotate(90) scale(.8 1)">1500</text></g>
<g transform="rotate(18.4 500 500)"><path d="M500 100V85"/><text class="e" transform="translate(500 81) rotate(90) scale(.8 1)">1600</text></g>
<g transform="rotate(19.55 500 500)"><path d="M500 100V85"/><text class="e" transform="translate(500 81) rotate(90) scale(.8 1)">1700</text></g>
<g transform="rotate(20.7 500 500)"><path d="M500 100V85"/><text class="e" transform="translate(500 81) rotate(90) scale(.8 1)">1800</text></g>
<g transform="rotate(21.85 500 500)"><path d="M500 100V85"/><text class="e" transform="translate(500 81) rotate(90) scale(.8 1)">1900</text></g>
<g transform="rotate(23 500 500)"><path d="M500 100V85"/><text class="e" transform="translate(500 81) rotate(90) scale(.8 1)">2000</text></g>
<g transform="rotate(24.15 500 500)"><path d="M500 100V85"/><text class="e" transform="translate(500 81) rotate(90) scale(.8 1)">2100</text></g>
</g>
<g class="tk" transform="rotate(241.3 500 500)">
<g transform="rotate(1.15 500 500)"><path d="M500 100V85"/><text class="e" transform="translate(500 81) rotate(90) scale(.8 1)">100</text></g>
<g transform="rotate(2.3 500 500)"><path d="M500 100V85"/><text class="e" transform="translate(500 81) rotate(90) scale(.8 1)">200</text></g>
<g transform="rotate(3.45 500 500)"><path d="M500 100V85"/><text class="e" transform="translate(500 81) rotate(90) scale(.8 1)">300</text></g>
<g transform="rotate(4.6 500 500)"><path d="M500 100V85"/><text class="e" transform="translate(500 81) rotate(90) scale(.8 1)">400</text></g>
<g transform="rotate(5.75 500 500)"><path d="M500 100V85"/><text class="e" transform="translate(500 81) rotate(90) scale(.8 1)">500</text></g>
<g transform="rotate(6.9 500 500)"><path d="M500 100V85"/><text class="e" transform="translate(500 81) rotate(90) scale(.8 1)">600</text></g>
<g transform="rotate(8.05 500 500)"><path d="M500 100V85"/><text class="e" transform="translate(500 81) rotate(90) scale(.8 1)">700</text></g>
<g transform="rotate(9.2 500 500)"><path d="M500 100V85"/><text class="e" transform="translate(500 81) rotate(90) scale(.8 1)">800</text></g>
<g transform="rotate(10.35 500 500)"><path d="M500 100V85"/><text class="e" transform="translate(500 81) rotate(90) scale(.8 1)">900</text></g>
<g transform="rotate(11.5 500 500)"><path d="M500 100V85"/><text class="e" transform="translate(500 81) rotate(90) scale(.8 1)">1000</text></g>
<g transform="rotate(12.65 500 500)"><path d="M500 100V85"/><text class="e" transform="translate(500 81) rotate(90) scale(.8 1)">1100</text></g>
<g transform="rotate(13.8 500 500)"><path d="M500 100V85"/><text class="e" transform="translate(500 81) rotate(90) scale(.8 1)">1200</text></g>
<g transform="rotate(14.95 500 500)"><path d="M500 100V85"/><text class="e" transform="translate(500 81) rotate(90) scale(.8 1)">1300</text></g>
<g transform="rotate(16.1 500 500)"><path d="M500 100V85"/><text class="e" transform="translate(500 81) rotate(90) scale(.8 1)">1400</text></g>
<g transform="rotate(17.25 500 500)"><path d="M500 100V85"/><text class="e" transform="translate(500 81) rotate(90) scale(.8 1)">1500</text></g>
<g transform="rotate(18.4 500 500)"><path d="M500 100V85"/><text class="e" transform="translate(500 81) rotate(90) scale(.8 1)">1600</text></g>
<g transform="rotate(19.55 500 500)"><path d="M500 100V85"/><text class="e" transform="translate(500 81) rotate(90) scale(.8 1)">1700</text></g>
<g transform="rotate(20.7 500 500)"><path d="M500 100V85"/><text class="e" transform="translate(500 81) rotate(90) scale(.8 1)">1800</text></g>
<g transform="rotate(21.85 500 500)"><path d="M500 100V85"/><text class="e" transform="translate(500 81) rotate(90) scale(.8 1)">1900</text></g>
</g>
<g class="tk" transform="rotate(264.8 500 500)">
<g transform="rotate(1.15 500 500)"><path d="M500 100V85"/><text class="e" transform="translate(500 81) rotate(90) scale(.8 1)">100</text></g>
<g transform="rotate(2.3 500 500)"><path d="M500 100V85"/><text class="e" transform="translate(500 81) rotate(90) scale(.8 1)">200</text></g>
<g transform="rotate(3.45 500 500)"><path d="M500 100V85"/><text class="e" transform="translate(500 81) rotate(90) scale(.8 1)">300</text></g>
<g transform="rotate(4.6 500 500)"><path d="M500 100V85"/><text class="e" transform="translate(500 81) rotate(90) scale(.8 1)">400</text></g>
<g transform="rotate(5.75 500 500)"><path d="M500 100V85"/><text class="e" transform="translate(500 81) rotate(90) scale(.8 1)">500</text></g>
<g transform="rotate(6.9 500 500)"><path d="M500 100V85"/><text class="e" transform="translate(500 81) rotate(90) scale(.8 1)">600</text></g>
<g transform="rotate(8.05 500 500)"><path d="M500 100V85"/><text class="e" transform="translate(500 81) rotate(90) scale(.8 1)">700</text></g>
<g transform="rotate(9.2 500 500)"><path d="M500 100V85"/><text class="e" transform="translate(500 81) rotate(90) scale(.8 1)">800</text></g>
<g transform="rotate(10.35 500 500)"><path d="M500 100V85"/><text class="e" transform="translate(500 81) rotate(90) scale(.8 1)">900</text></g>
</g>
<g class="tk" transform="rotate(277.4 500 500)">
<g transform="rotate(1.15 500 500)"><path d="M500 100V85"/><text class="e" transform="translate(500 81) rotate(90) scale(.8 1)">100</text></g>
<g transform="rotate(2.3 500 500)"><path d="M500 100V85"/><text class="e" transform="translate(500 81) rotate(90) scale(.8 1)">200</text></g>
<g transform="rotate(3.45 500 500)"><path d="M500 100V85"/><text class="e" transform="translate(500 81) rotate(90) scale(.8 1)">300</text></g>
<g transform="rotate(4.6 500 500)"><path d="M500 100V85"/><text class="e" transform="translate(500 81) rotate(90) scale(.8 1)">400</text></g>
<g transform="rotate(5.75 500 500)"><path d="M500 100V85"/><text class="e" transform="translate(500 81) rotate(90) scale(.8 1)">500</text></g>
<g transform="rotate(6.9 500 500)"><path d="M500 100V85"/><text class="e" transform="translate(500 81) rotate(90) scale(.8 1)">600</text></g>
<g transform="rotate(8.05 500 500)"><path d="M500 100V85"/><text class="e" transform="translate(500 81) rotate(90) scale(.8 1)">700</text></g>
<g transform="rotate(9.2 500 500)"><path d="M500 100V85"/><text class="e" transform="translate(500 81) rotate(90) scale(.8 1)">800</text></g>
<g transform="rotate(10.35 500 500)"><path d="M500 100V85"/><text class="e" transform="translate(500 81) rotate(90) scale(.8 1)">900</text></g>
<g transform="rotate(11.5 500 500)"><path d="M500 100V85"/><text class="e" transform="translate(500 81) rotate(90) scale(.8 1)">1000</text></g>
<g transform="rotate(12.65 500 500)"><path d="M500 100V85"/><text class="e" transform="translate(500 81) rotate(90) scale(.8 1)">1100</text></g>
<g transform="rotate(13.8 500 500)"><path d="M500 100V85"/><text class="e" transform="translate(500 81) rotate(90) scale(.8 1)">1200</text></g>
</g>
<g class="tk" transform="rotate(293 500 500)">
<g transform="rotate(1.15 500 500)"><path d="M500 100V85"/><text class="e" transform="translate(500 81) rotate(90) scale(.8 1)">100</text></g>
<g transform="rotate(2.3 500 500)"><path d="M500 100V85"/><text class="e" transform="translate(500 81) rotate(90) scale(.8 1)">200</text></g>
<g transform="rotate(3.45 500 500)"><path d="M500 100V85"/><text class="e" transform="translate(500 81) rotate(90) scale(.8 1)">300</text></g>
<g transform="rotate(4.6 500 500)"><path d="M500 100V85"/><text class="e" transform="translate(500 81) rotate(90) scale(.8 1)">400</text></g>
<g transform="rotate(5.75 500 500)"><path d="M500 100V85"/><text class="e" transform="translate(500 81) rotate(90) scale(.8 1)">500</text></g>
<g transform="rotate(6.9 500 500)"><path d="M500 100V85"/><text class="e" transform="translate(500 81) rotate(90) scale(.8 1)">600</text></g>
</g>
<g class="tk" transform="rotate(301.7 500 500)">
<g transform="rotate(1.15 500 500)"><path d="M500 100V85"/><text class="e" transform="translate(500 81) rotate(90) scale(.8 1)">100</text></g>
<g transform="rotate(2.3 500 500)"><path d="M500 100V85"/><text class="e" transform="translate(500 81) rotate(90) scale(.8 1)">200</text></g>
<g transform="rotate(3.45 500 500)"><path d="M500 100V85"/><text class="e" transform="translate(500 81) rotate(90) scale(.8 1)">300</text></g>
<g transform="rotate(4.6 500 500)"><path d="M500 100V85"/><text class="e" transform="translate(500 81) rotate(90) scale(.8 1)">400</text></g>
<g transform="rotate(5.75 500 500)"><path d="M500 100V85"/><text class="e" transform="translate(500 81) rotate(90) scale(.8 1)">500</text></g>
<g transform="rotate(6.9 500 500)"><path d="M500 100V85"/><text class="e" transform="translate(500 81) rotate(90) scale(.8 1)">600</text></g>
<g transform="rotate(8.05 500 500)"><path d="M500 100V85"/><text class="e" transform="translate(500 81) rotate(90) scale(.8 1)">700</text></g>
<g transform="rotate(9.2 500 500)"><path d="M500 100V85"/><text class="e" transform="translate(500 81) rotate(90) scale(.8 1)">800</text></g>
<g transform="rotate(10.35 500 500)"><path d="M500 100V85"/><text class="e" transform="translate(500 81) rotate(90) scale(.8 1)">900</text></g>
<g transform="rotate(11.5 500 500)"><path d="M500 100V85"/><text class="e" transform="translate(500 81) rotate(90) scale(.8 1)">1000</text></g>
<g transform="rotate(12.65 500 500)"><path d="M500 100V85"/><text class="e" transform="translate(500 81) rotate(90) scale(.8 1)">1100</text></g>
<g transform="rotate(13.8 500 500)"><path d="M500 100V85"/><text class="e" transform="translate(500 81) rotate(90) scale(.8 1)">1200</text></g>
<g transform="rotate(14.95 500 500)"><path d="M500 100V85"/><text class="e" transform="translate(500 81) rotate(90) scale(.8 1)">1300</text></g>
<g transform="rotate(16.1 500 500)"><path d="M500 100V85"/><text class="e" transform="translate(500 81) rotate(90) scale(.8 1)">1400</text></g>
<g transform="rotate(17.25 500 500)"><path d="M500 100V85"/><text class="e" transform="translate(500 81) rotate(90) scale(.8 1)">1500</text></g>
</g>
<g class="tk" transform="rotate(321.2 500 500)">
<g transform="rotate(1.15 500 500)"><path d="M500 100V85"/><text class="e" transform="translate(500 81) rotate(90) scale(.8 1)">100</text></g>
<g transform="rotate(2.3 500 500)"><path d="M500 100V85"/><text class="e" transform="translate(500 81) rotate(90) scale(.8 1)">200</text></g>
<g transform="rotate(3.45 500 500)"><path d="M500 100V85"/><text class="e" transform="translate(500 81) rotate(90) scale(.8 1)">300</text></g>
<g transform="rotate(4.6 500 500)"><path d="M500 100V85"/><text class="e" transform="translate(500 81) rotate(90) scale(.8 1)">400</text></g>
<g transform="rotate(5.75 500 500)"><path d="M500 100V85"/><text class="e" transform="translate(500 81) rotate(90) scale(.8 1)">500</text></g>
</g>
<g class="tk" transform="rotate(330 500 500)">
<g transform="rotate(1.15 500 500)"><path d="M500 100V85"/><text class="e" transform="translate(500 81) rotate(90) scale(.8 1)">100</text></g>
<g transform="rotate(2.3 500 500)"><path d="M500 100V85"/><text class="e" transform="translate(500 81) rotate(90) scale(.8 1)">200</text></g>
<g transform="rotate(3.45 500 500)"><path d="M500 100V85"/><text class="e" transform="translate(500 81) rotate(90) scale(.8 1)">300</text></g>
<g transform="rotate(4.6 500 500)"><path d="M500 100V85"/><text class="e" transform="translate(500 81) rotate(90) scale(.8 1)">400</text></g>
</g>
<g class="tk" transform="rotate(337.2 500 500)">
<g transform="rotate(1.15 500 500)"><path d="M500 100V85"/><text class="e" transform="translate(500 81) rotate(90) scale(.8 1)">100</text></g>
<g transform="rotate(2.3 500 500)"><path d="M500 100V85"/><text class="e" transform="translate(500 81) rotate(90) scale(.8 1)">200</text></g>
<g transform="rotate(3.45 500 500)"><path d="M500 100V85"/><text class="e" transform="translate(500 81) rotate(90) scale(.8 1)">300</text></g>
<g transform="rotate(4.6 500 500)"><path d="M500 100V85"/><text class="e" transform="translate(500 81) rotate(90) scale(.8 1)">400</text></g>
<g transform="rotate(5.75 500 500)"><path d="M500 100V85"/><text class="e" transform="translate(500 81) rotate(90) scale(.8 1)">500</text></g>
<g transform="rotate(6.9 500 500)"><path d="M500 100V85"/><text class="e" transform="translate(500 81) rotate(90) scale(.8 1)">600</text></g>
<g transform="rotate(8.05 500 500)"><path d="M500 100V85"/><text class="e" transform="translate(500 81) rotate(90) scale(.8 1)">700</text></g>
<g transform="rotate(9.2 500 500)"><path d="M500 100V85"/><text class="e" transform="translate(500 81) rotate(90) scale(.8 1)">800</text></g>
<g transform="rotate(10.35 500 500)"><path d="M500 100V85"/><text class="e" transform="translate(500 81) rotate(90) scale(.8 1)">900</text></g>
<g transform="rotate(11.5 500 500)"><path d="M500 100V85"/><text class="e" transform="translate(500 81) rotate(90) scale(.8 1)">1000</text></g>
<g transform="rotate(12.65 500 500)"><path d="M500 100V85"/><text class="e" transform="translate(500 81) rotate(90) scale(.8 1)">1100</text></g>
<g transform="rotate(13.8 500 500)"><path d="M500 100V85"/><text class="e" transform="translate(500 81) rotate(90) scale(.8 1)">1200</text></g>
<g transform="rotate(14.95 500 500)"><path d="M500 100V85"/><text class="e" transform="translate(500 81) rotate(90) scale(.8 1)">1300</text></g>
<g transform="rotate(16.1 500 500)"><path d="M500 100V85"/><text class="e" transform="translate(500 81) rotate(90) scale(.8 1)">1400</text></g>
<g transform="rotate(17.25 500 500)"><path d="M500 100V85"/><text class="e" transform="translate(500 81) rotate(90) scale(.8 1)">1500</text></g>
<g transform="rotate(18.4 500 500)"><path d="M500 100V85"/><text class="e" transform="translate(500 81) rotate(90) scale(.8 1)">1600</text></g>
<g transform="rotate(19.55 500 500)"><path d="M500 100V85"/><text class="e" transform="translate(500 81) rotate(90) scale(.8 1)">1700</text></g>
<g transform="rotate(20.7 500 500)"><path d="M500 100V85"/><text class="e" transform="translate(500 81) rotate(90) scale(.8 1)">1800</text></g>
</g>
<!-- segment names -->
<g class="nm">
<text transform="rotate(0.35 500 500)" x="500" y="41">berenice_138</text>
<text transform="rotate(13.05 500 500)" x="500" y="41">TcDm25_Chr03_H1</text>
<text transform="rotate(28.7 500 500)" x="500" y="41">TcDm25_Chr05_H1</text>
<text transform="rotate(35 500 500)" x="500" y="41">TcDm25_Chr05_H2_c2</text>
<text transform="rotate(43.3 500 500)" x="500" y="41">TcDm25_Chr21_H1</text>
<text transform="rotate(53.9 500 500)" x="500" y="41">TcDm25_Chr03_H2_c1</text>
<text transform="rotate(66.3 500 500)" x="500" y="41">TcDm25_Chr08_H1</text>
<text transform="rotate(80.9 500 500)" x="500" y="41">TcDm25_Chr08_H2_c1</text>
<text transform="rotate(88.3 500 500)" x="500" y="41">TcDm25_Chr24_H1</text>
<text transform="rotate(270.4 500 500)" x="500" y="41">TcDm25_Chr17_H2_c1</text>
<text transform="rotate(284.5 500 500)" x="500" y="41">TcDm25_Chr17_H1</text>
<text transform="rotate(296.65 500 500)" x="500" y="41">TcDm25_Chr32_H2_c1</text>
<text transform="rotate(310.65 500 500)" x="500" y="41">TcDm25_Chr06_H2_c1</text>
<text transform="rotate(324.6 500 500)" x="500" y="41">TcDm25_Chr32_H2_c2</text>
<text transform="rotate(332.8 500 500)" x="500" y="41">TcDm25_Chr19_H2_c4</text>
<text transform="rotate(347.9 500 500)" x="500" y="41">TcDm25_Chr32_H1</text>
<text transform="rotate(-85.55 500 500)" x="500" y="962">TcDm25_Chr24_H2_c3</text>
<text transform="rotate(-64.4 500 500)" x="500" y="962">TcDm25_Chr30_H2_c1</text>
<text transform="rotate(-33.35 500 500)" x="500" y="962">TcDm25_Chr30_H1_c1</text>
<text transform="rotate(-13.9 500 500)" x="500" y="962">TcDm25_Chr26_H2_c1</text>
<text transform="rotate(-2.6 500 500)" x="500" y="962">TcDm25_Chr11_H1_c1</text>
<text transform="rotate(6.3 500 500)" x="500" y="962">TcDm25_Chr11_H2</text>
<text transform="rotate(18.65 500 500)" x="500" y="962">TcDm25_Chr06_H1</text>
<text transform="rotate(31.95 500 500)" x="500" y="962">TcDm25_Chr08_H2_c2</text>
<text transform="rotate(47.75 500 500)" x="500" y="962">TcDm25_Chr02_H1</text>
<text transform="rotate(72.35 500 500)" x="500" y="962">TcDm25_Chr02_H2_c1</text>
</g>
</svg>
</body></html>
